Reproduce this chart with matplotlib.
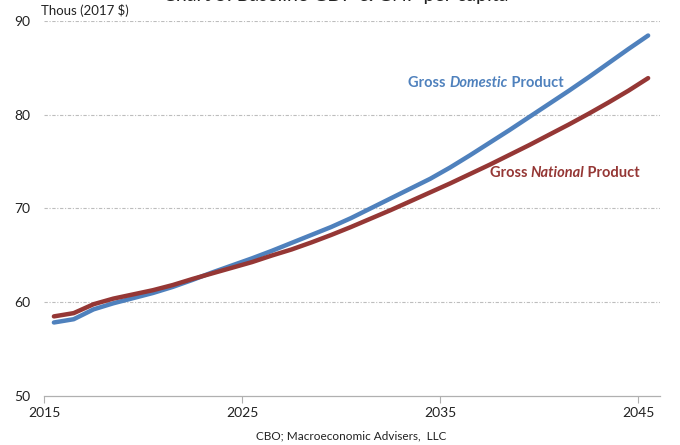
import numpy as np
import matplotlib
matplotlib.use('Agg')
import matplotlib.pyplot as plt

# ── Data (thousands of 2017 $, annual, plotted at mid-year) ────────────────
years = list(range(2015, 2046))

gdp_per_capita = [
    57.8, 58.15, 59.2, 59.85, 60.4, 60.95, 61.6, 62.35, 63.15, 63.9,
    64.65, 65.45, 66.3, 67.15, 68.0, 68.95, 70.0, 71.05, 72.1, 73.15,
    74.35, 75.65, 77.0, 78.35, 79.75, 81.15, 82.55, 84.0, 85.5, 87.0,
    88.45,
]

gnp_per_capita = [
    58.45, 58.8, 59.75, 60.35, 60.8, 61.25, 61.8, 62.45, 63.05, 63.65,
    64.25, 64.95, 65.6, 66.35, 67.15, 68.0, 68.9, 69.8, 70.75, 71.7,
    72.65, 73.65, 74.65, 75.7, 76.75, 77.85, 78.95, 80.1, 81.3, 82.55,
    83.9,
]

x_ticks = [2015, 2025, 2035, 2045]
y_ticks = [50, 60, 70, 80, 90]

title  = 'Chart 5: Baseline GDP & GNP per capita'
units  = 'Thous (2017 $)'
source = 'CBO; Macroeconomic Advisers,  LLC'

BLUE = '#4F81BD'
RED  = '#953735'
FONT = 'Lato'

plt.rcParams['font.family'] = [FONT, 'DejaVu Sans']

fig = plt.figure(figsize=(6.8, 4.45), dpi=100)
ax  = fig.add_axes([0.0647, 0.1112, 0.9059, 0.8416])

x_mid = np.array(years) + 0.5
ax.plot(x_mid, gdp_per_capita, color=BLUE, lw=3.2, solid_capstyle='round', zorder=3)
ax.plot(x_mid, gnp_per_capita, color=RED,  lw=3.2, solid_capstyle='round', zorder=3)

ax.set_xlim(2015, 2046.1)
ax.set_ylim(50, 90)
ax.set_xticks(x_ticks)
ax.set_yticks(y_ticks)
ax.tick_params(axis='y', length=0, pad=10, labelsize=10, labelcolor='#222222')
ax.tick_params(axis='x', length=5, width=0.8, color='#b0b0b0', pad=3,
               labelsize=10, labelcolor='#222222')

# dotted horizontal gridlines (not on the baseline)
for yv in y_ticks[1:]:
    ax.axhline(yv, color='#bdbdbd', lw=0.8, ls=(0, (3, 1.5, 1, 1.5)), zorder=1)

for side in ['left', 'right', 'top']:
    ax.spines[side].set_visible(False)
ax.spines['bottom'].set_color('#b0b0b0')
ax.spines['bottom'].set_linewidth(0.9)


# ── Series labels with an italic middle word ───────────────────────────────
def mixed_label(x, y, parts, color, size=10.5):
    prev = ax.text(x, y, parts[0], color=color, fontsize=size,
                   fontweight='bold', ha='left', va='center')
    for txt, style in parts[1:]:
        prev = ax.annotate(txt, xy=(1, 0), xycoords=prev, ha='left', va='bottom',
                           color=color, fontsize=size, fontweight='bold',
                           fontstyle=style)
    return prev


mixed_label(2033.4, 83.35, ['Gross ', ('Domestic', 'italic'), (' Product', 'normal')], BLUE)
mixed_label(2037.5, 73.8, ['Gross ', ('National', 'italic'), (' Product', 'normal')], RED)

# ── Titles and notes (title sits mostly above the top edge, as in the source) ─
fig.text(0.493, 1 - 1.5 / 445, title, ha='center', va='baseline',
         fontsize=14, color='#222222')
fig.text(41 / 680, 1 - 15 / 445, units, ha='left', va='baseline',
         fontsize=9.5, color='#222222')
fig.text(351 / 680, 1 - 436 / 445, source, ha='center', va='center',
         fontsize=8.5, color='#222222')

fig.savefig('out.png', dpi=100)
